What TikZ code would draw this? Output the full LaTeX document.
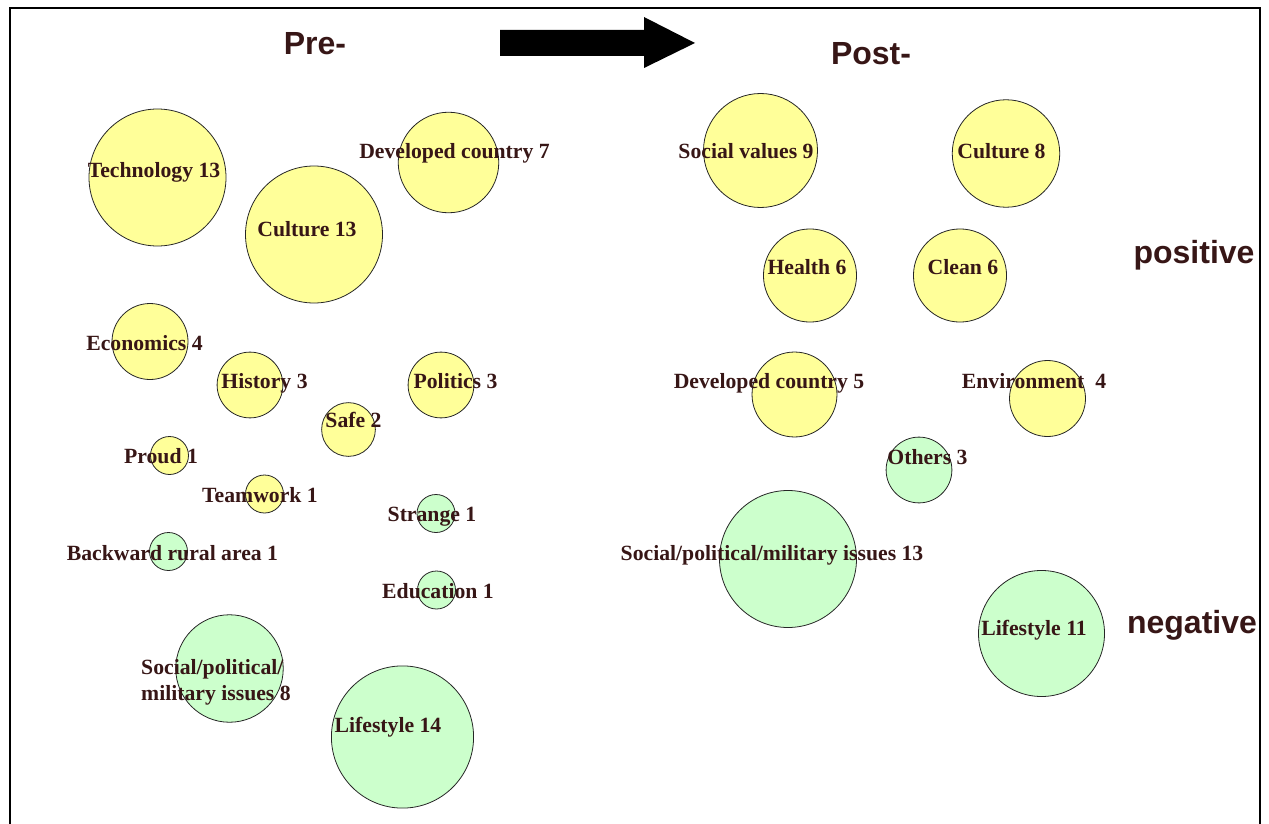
\documentclass[tikz,border=0pt]{standalone}
\usepackage{fontspec}
\setmainfont{Liberation Serif}
\newfontfamily\headfont{Liberation Sans}
\usetikzlibrary{arrows.meta,positioning}
\definecolor{txtbrown}{RGB}{55,22,22}
\definecolor{posyellow}{RGB}{255,255,153}
\definecolor{neggreen}{RGB}{204,255,204}

\begin{document}
\begin{tikzpicture}[x=1pt,y=-1pt,
  bub/.style={circle,draw=black!85,line width=0.8pt,inner sep=0pt,minimum size={2*19*sqrt(#1)}},
  pos/.style={bub=#1,fill=posyellow},
  neg/.style={bub=#1,fill=neggreen},
  lab/.style={anchor=base,inner sep=0pt,text=txtbrown,font=\fontsize{21.7}{26}\selectfont\bfseries},
  head/.style={anchor=base,inner sep=0pt,text=txtbrown,font=\headfont\fontsize{32}{34}\selectfont\bfseries}]
\useasboundingbox (0,0) rectangle (1269,824);
% frame (open at the bottom)
\draw[line width=2pt] (10,824) -- (10,8) -- (1260,8) -- (1260,824);

% headers and arrow
\node[head] (pre) at (315,55) {Pre-};
\node[head] (post) at (871,65) {Post-};
\node[head] (positive) at (1194,263) {positive};
\node[head] (negative) at (1192,633) {negative};
\fill[black] (500,30) -- (644,30) -- (644,17) -- (695,43) -- (644,68) -- (644,56) -- (500,56) -- cycle;

% pre- bubbles
\node[pos=13] (tech) at (157.5,177.5) {};
\node[pos=13] (cult) at (314,234.5) {};
\node[pos=7] (devc) at (448.5,162.5) {};
\node[pos=4] (econ) at (150,341.5) {};
\node[pos=3] (hist) at (250,385) {};
\node[pos=3] (poli) at (441,385) {};
\node[pos=2] (safe) at (348.5,429.5) {};
\node[pos=1] (proud) at (169.5,455.5) {};
\node[pos=1] (team) at (264.5,494) {};
\node[neg=1] (strange) at (436,513.5) {};
\node[neg=1] (backw) at (168.5,551.5) {};
\node[neg=1] (educ) at (436.5,590) {};
\node[neg=8] (spm) at (229.5,668.5) {};
\node[neg=14] (life) at (402.5,737) {};
\node[lab] (techL) at (154,177) {Technology 13};
\node[lab] (cultL) at (307,236) {Culture 13};
\node[lab] (devcL) at (454.5,159) {Developed country 7};
\node[lab] (econL) at (144.5,350) {Economics 4};
\node[lab] (histL) at (264.5,388) {History 3};
\node[lab] (poliL) at (455.5,388) {Politics 3};
\node[lab] (safeL) at (353.5,427) {Safe 2};
\node[lab] (proudL) at (161,463) {Proud 1};
\node[lab] (teamL) at (260,502) {Teamwork 1};
\node[lab] (strangeL) at (432,521) {Strange 1};
\node[lab] (backwL) at (172.5,560) {Backward rural area 1};
\node[lab] (educL) at (438,598) {Education 1};
\node[lab,anchor=north west,align=left] (spmL) at (141,659) {Social/political/\\military issues 8};
\node[lab] (lifeL) at (388,732) {Lifestyle 14};

% post- bubbles
\node[pos=9] (socv) at (760.5,150.5) {};
\node[pos=8] (cult2) at (1006,153.5) {};
\node[pos=6] (health) at (810,275.5) {};
\node[pos=6] (clean) at (960,275.5) {};
\node[pos=5] (devc2) at (794.5,394.5) {};
\node[pos=4] (envi) at (1047.5,398.5) {};
\node[neg=3] (others) at (919,470) {};
\node[neg=13] (spm2) at (788,559) {};
\node[neg=11] (life2) at (1041.5,633.5) {};
\node[lab] (socvL) at (746,158) {Social values 9};
\node[lab] (cult2L) at (1001.5,158) {Culture 8};
\node[lab] (healthL) at (807,274) {Health 6};
\node[lab] (cleanL) at (963,274) {Clean 6};
\node[lab] (devc2L) at (769,388) {Developed country 5};
\node[lab] (enviL) at (1034,388) {Environment\ \ 4};
\node[lab] (othersL) at (927.5,464) {Others 3};
\node[lab] (spm2L) at (772,560) {Social/political/military issues 13};
\node[lab] (life2L) at (1034,635) {Lifestyle 11};
\end{tikzpicture}
\end{document}
